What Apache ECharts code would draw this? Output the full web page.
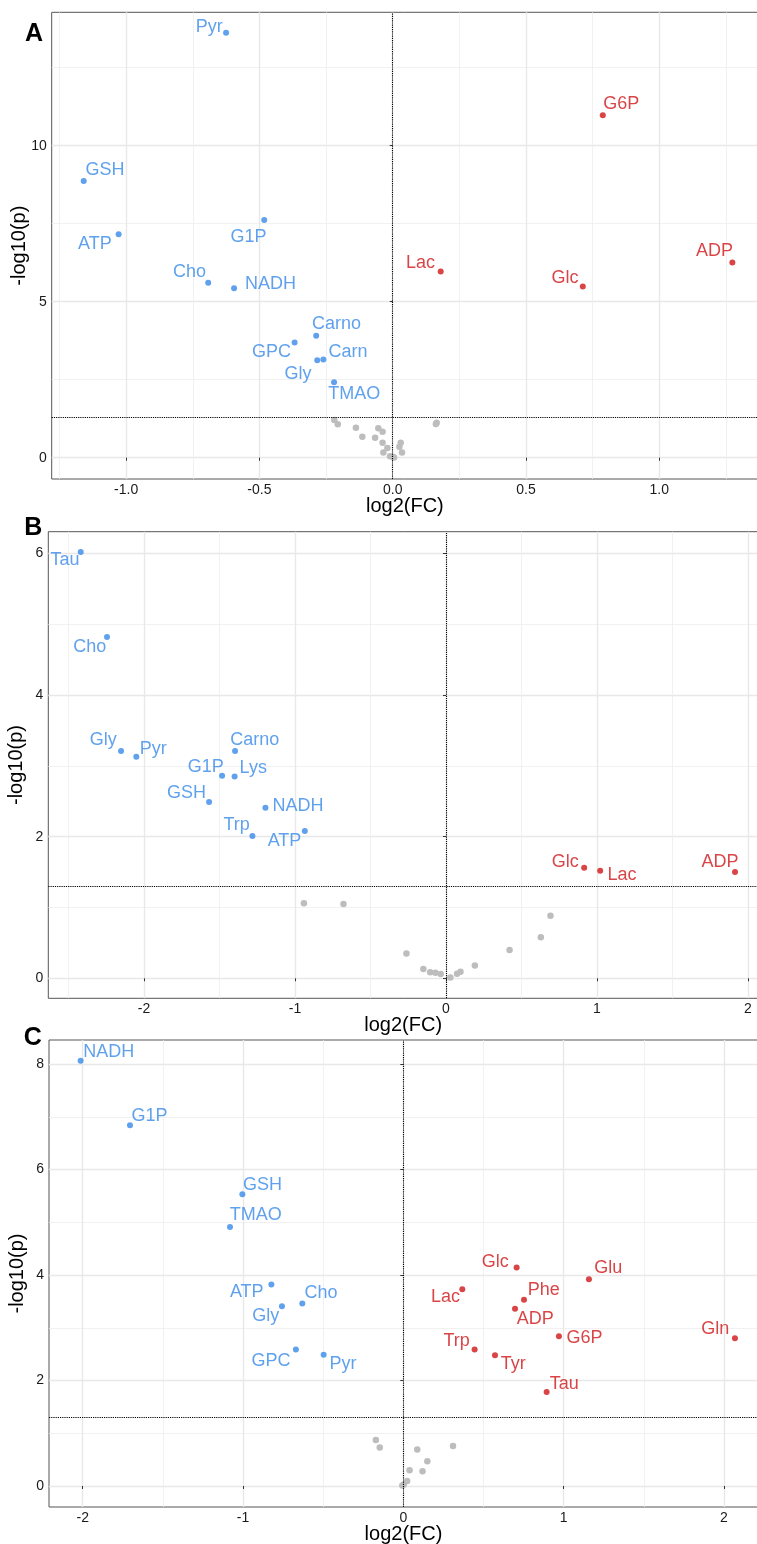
<!DOCTYPE html>
<html><head><meta charset="utf-8">
<script src="https://cdn.jsdelivr.net/npm/echarts@6/dist/echarts.min.js"></script>
<style>html,body{margin:0;padding:0;background:#fff}#c{width:757px;height:1544px}</style>
</head><body><div id="c"></div>
<script>
// ---------- DATA ----------
// Panel A
const A_names = ['Pyr','GSH','ATP','G1P','Cho','NADH','Carno','GPC','Gly','Carn','TMAO','G6P','Lac','Glc','ADP'];
const A_fc    = [-0.625,-1.159,-1.028,-0.482,-0.692,-0.595,-0.287,-0.368,-0.283,-0.260,-0.220,0.788,0.180,0.713,1.274];
const A_p     = [13.62,8.87,7.16,7.62,5.61,5.43,3.91,3.69,3.12,3.15,2.42,10.98,5.97,5.49,6.26];
const A_ns_fc = [-0.219,-0.206,-0.138,-0.114,-0.054,-0.038,-0.066,-0.038,-0.020,-0.035,-0.010,0.005,0.000,0.030,0.025,0.035,0.165,0.162];
const A_ns_p  = [1.21,1.07,0.96,0.67,0.94,0.83,0.64,0.48,0.31,0.17,0.05,0.01,0.03,0.48,0.35,0.17,1.12,1.08];
const A_xticks = [-1.0,-0.5,0.0,0.5,1.0];
const A_yticks = [0,5,10];

// Panel B
const B_names = ['Tau','Cho','Gly','Pyr','Carno','G1P','Lys','GSH','NADH','Trp','ATP','Glc','Lac','ADP'];
const B_fc    = [-2.419,-2.245,-2.152,-2.051,-1.397,-1.483,-1.400,-1.569,-1.196,-1.282,-0.935,0.915,1.021,1.914];
const B_p     = [6.02,4.82,3.21,3.13,3.21,2.86,2.85,2.49,2.41,2.01,2.08,1.56,1.52,1.50];
const B_ns_fc = [-0.941,-0.679,-0.262,-0.150,-0.105,-0.070,-0.035,0.029,0.073,0.096,0.191,0.421,0.628,0.692];
const B_ns_p  = [1.06,1.05,0.35,0.13,0.085,0.08,0.06,0.01,0.066,0.094,0.18,0.40,0.58,0.885];
const B_xticks = [-2,-1,0,1,2];
const B_yticks = [0,2,4,6];

// Panel C
const C_names = ['NADH','G1P','GSH','TMAO','ATP','Cho','Gly','GPC','Pyr','Glc','Glu','Lac','Phe','ADP','G6P','Gln','Trp','Tyr','Tau'];
const C_fc    = [-2.013,-1.705,-1.004,-1.081,-0.823,-0.630,-0.757,-0.670,-0.497,0.707,1.158,0.368,0.753,0.697,0.971,2.069,0.445,0.572,0.894];
const C_p     = [8.06,6.84,5.53,4.91,3.82,3.46,3.41,2.59,2.49,4.14,3.92,3.73,3.53,3.36,2.84,2.80,2.59,2.48,1.78];
const C_ns_fc = [-0.171,-0.147,0.087,0.310,0.150,0.039,0.120,0.024,0.003,-0.006];
const C_ns_p  = [0.873,0.73,0.69,0.76,0.47,0.30,0.28,0.095,0.03,0.01];
const C_xticks = [-2,-1,0,1,2];
const C_yticks = [0,2,4,6,8];

const P_CUTOFF = 0.05;
const FC_CUTOFF = 0;

// ---------- LAYOUT / STYLE ----------
const BLUE = '#388AE8', RED = '#CF1518', GREY = '#BDBDBD';
const FONT = '"Liberation Sans", Arial, sans-serif';
const SIG_SIZE = 6;
const labelOffsets = [
  {Pyr:[-16.8,-6.9],GSH:[21.3,-11.5],ATP:[-23.7,8.7],G1P:[-15.6,16.3],Cho:[-18.6,-11.5],NADH:[36.3,-4.6],Carno:[20.4,-12],GPC:[-23.2,8.3],Gly:[-19.3,12.5],Carn:[24.5,-8.1],TMAO:[20.2,11.4],G6P:[18.5,-11.7],Lac:[-20.2,-9.1],Glc:[-17.7,-9.6],ADP:[-17.8,-12.3]},
  {Tau:[-15.7,6.9],Cho:[-17.3,9.3],Gly:[-17.7,-12.2],Pyr:[17,-8.4],Carno:[19.7,-12.3],G1P:[-16.3,-9.3],Lys:[18.6,-8.9],GSH:[-22.6,-10],NADH:[32.5,-2.8],Trp:[-15.8,-11.5],ATP:[-20.3,9.5],Glc:[-19,-6.9],Lac:[21.9,3.4],ADP:[-15.1,-11.1]},
  {NADH:[28.1,-9.9],G1P:[19.5,-10.3],GSH:[20.2,-9.6],TMAO:[25.8,-12.7],ATP:[-24.6,6.5],Cho:[18.7,-11.3],Gly:[-16.3,9.5],GPC:[-24.8,10.9],Pyr:[19.3,8.3],Glc:[-21.3,-6.3],Glu:[19.3,-11.5],Lac:[-16.8,6.8],Phe:[19.8,-10.5],ADP:[20.3,9.7],G6P:[25.5,0.7],Gln:[-19.7,-10.3],Trp:[-18,-9.3],Tyr:[18.3,8],Tau:[17.6,-9]}
];
const panels = [
  {names:A_names, fc:A_fc, p:A_p, nsfc:A_ns_fc, nsp:A_ns_p, xt:A_xticks, yt:A_yticks, xdec:1,
   grid:{left:51.7, top:12.3, width:706.3, height:466.7}, xmin:-1.2791, xmax:1.3702, ymin:-0.683, ymax:14.276, letter:'A', lx:34, ly:33.7},
  {names:B_names, fc:B_fc, p:B_p, nsfc:B_ns_fc, nsp:B_ns_p, xt:B_xticks, yt:B_yticks, xdec:0,
   grid:{left:48.3, top:531.7, width:709.7, height:466.6}, xmin:-2.6338, xmax:2.0662, ymin:-0.2825, ymax:6.308, letter:'B', lx:33.3, ly:528.2},
  {names:C_names, fc:C_fc, p:C_p, nsfc:C_ns_fc, nsp:C_ns_p, xt:C_xticks, yt:C_yticks, xdec:0,
   grid:{left:49, top:1040, width:709, height:467}, xmin:-2.2102, xmax:2.2127, ymin:-0.398, ymax:8.455, letter:'C', lx:32.8, ly:1038.5}
];

function minorsOf(ticks, lo, hi) {
  const step = ticks[1] - ticks[0];
  const out = [];
  for (let i = -1; i < ticks.length; i++) {
    const v = ticks[0] + (i + 0.5) * step;
    if (v > lo && v < hi) out.push(v);
  }
  return out;
}

const option = {
  animation: false,
  backgroundColor: '#fff',
  textStyle: {fontFamily: FONT},
  grid: [], xAxis: [], yAxis: [], series: [], graphic: []
};

panels.forEach((P, i) => {
  option.grid.push(Object.assign({show:true, borderColor:'#555', borderWidth:1, backgroundColor:'transparent', containLabel:false, outerBoundsMode:'none'}, P.grid));
  const xmin = minorsOf(P.xt, P.xmin, P.xmax), ymin = minorsOf(P.yt, P.ymin, P.ymax);
  option.xAxis.push({gridIndex:i, type:'value', min:P.xmin, max:P.xmax, position:'bottom',
    axisLine:{show:false}, axisTick:{show:true, length:3, lineStyle:{color:'#333'}, customValues:P.xt},
    axisLabel:{customValues:P.xt, fontSize:14, color:'#1a1a1a', margin:4, formatter:v => v.toFixed(P.xdec)},
    splitLine:{show:true, lineStyle:{color:'#E8E8E8', width:1.4}},
    name:'log2(FC)', nameLocation:'middle', nameGap:17, nameMoveOverlap:false,
    nameTextStyle:{fontSize:20, color:'#000', fontFamily:FONT}});
  option.xAxis.push({gridIndex:i, type:'value', min:P.xmin, max:P.xmax, position:'bottom',
    axisLine:{show:false}, axisTick:{show:false, customValues:xmin}, axisLabel:{show:false, customValues:xmin},
    splitLine:{show:true, lineStyle:{color:'#EEEEEE', width:0.8}}});
  option.yAxis.push({gridIndex:i, type:'value', min:P.ymin, max:P.ymax, position:'left',
    axisLine:{show:false}, axisTick:{show:true, length:3, lineStyle:{color:'#333'}, customValues:P.yt},
    axisLabel:{customValues:P.yt, fontSize:14, color:'#1a1a1a', margin:5, formatter:v => String(v)},
    splitLine:{show:true, lineStyle:{color:'#E8E8E8', width:1.4}},
    name:'-log10(p)', nameLocation:'middle', nameGap:22, nameMoveOverlap:false,
    nameTextStyle:{fontSize:20, color:'#000', fontFamily:FONT}});
  option.yAxis.push({gridIndex:i, type:'value', min:P.ymin, max:P.ymax, position:'left',
    axisLine:{show:false}, axisTick:{show:false, customValues:ymin}, axisLabel:{show:false, customValues:ymin},
    splitLine:{show:true, lineStyle:{color:'#EEEEEE', width:0.8}}});

  const xi = 2*i, yi = 2*i;
  option.series.push({type:'scatter', xAxisIndex:xi, yAxisIndex:yi, symbolSize:6.5, z:2,
    itemStyle:{color:GREY, opacity:1},
    data: P.nsfc.map((x, k) => [x, P.nsp[k]]),
    markLine:{silent:true, symbol:['none','none'], label:{show:false}, animation:false,
      lineStyle:{color:'#000', type:[1.2,1], width:1.1},
      data:[{yAxis:-Math.log10(P_CUTOFF)}, {xAxis:FC_CUTOFF}]}
  });
  const offs = labelOffsets[i];
  option.series.push({type:'scatter', xAxisIndex:xi, yAxisIndex:yi, symbolSize:SIG_SIZE, z:3,
    data: P.names.map((n, k) => {
      const col = P.fc[k] < FC_CUTOFF ? BLUE : RED;
      const o = offs[n] || [0, -12];
      return {value:[P.fc[k], P.p[k]], name:n, itemStyle:{color:col},
        label:{show:true, formatter:n, position:[SIG_SIZE/2 + o[0], SIG_SIZE/2 + o[1] + 0.8],
          align:'center', verticalAlign:'middle', color:col, fontSize:18, fontFamily:FONT}};
    }),
    labelLayout:{hideOverlap:false, moveOverlap:false}
  });
  option.graphic.push({type:'text', silent:true, style:{text:P.letter, x:P.lx, y:P.ly,
    fontSize:25, fontWeight:'bold', fontFamily:FONT, fill:'#000', align:'center', verticalAlign:'middle'}});
});

const chart = echarts.init(document.getElementById('c'), null, {renderer:'canvas', width:757, height:1544});
chart.setOption(option);
</script>
</body></html>
